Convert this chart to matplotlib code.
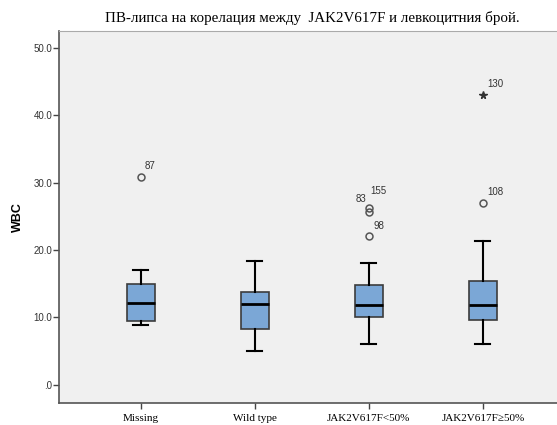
import matplotlib
matplotlib.use("Agg")
import matplotlib.pyplot as plt
from matplotlib.ticker import FuncFormatter

# Data
categories = ["Missing", "Wild type", "JAK2V617F<50%", "JAK2V617F\u226550%"]
q1 = [9.4, 8.2, 10.0, 9.6]
median = [12.1, 12.0, 11.8, 11.8]
q3 = [15.0, 13.8, 14.8, 15.4]
whisker_low = [8.8, 5.0, 6.0, 6.0]
whisker_high = [17.0, 18.3, 18.1, 21.4]

# outliers: (category index, value, case label)
outlier_cat = [0, 2, 2, 2, 3]
outlier_val = [30.9, 26.3, 25.6, 22.0, 27.0]
outlier_lbl = ["87", "155", "83", "98", "108"]
extreme_cat = [3]
extreme_val = [43.0]
extreme_lbl = ["130"]

title = "ПВ-липса на корелация между  JAK2V617F и левкоцитния брой."
ylabel = "WBC"
yticks = [0, 10, 20, 30, 40, 50]

# label offsets in points (text placement only)
outlier_off = [(3, 4, "left"), (1, 8, "left"), (-2, 6, "right"), (3, 4, "left"), (3, 4, "left")]
extreme_off = [(3, 4, "left")]

fig = plt.figure(figsize=(5.57, 4.25), dpi=100)
ax = fig.add_axes([0.106, 0.052, 0.894, 0.875])
ax.set_facecolor("#F0F0F0")

positions = list(range(1, len(categories) + 1))
stats = []
for i in range(len(categories)):
    stats.append(dict(med=median[i], q1=q1[i], q3=q3[i],
                      whislo=whisker_low[i], whishi=whisker_high[i], fliers=[]))

ax.bxp(stats, positions=positions, widths=0.25, capwidths=0.13,
       patch_artist=True, showfliers=False,
       boxprops=dict(facecolor="#7BA7D6", edgecolor="#3C3C3C", linewidth=1.2),
       medianprops=dict(color="black", linewidth=2),
       whiskerprops=dict(color="black", linewidth=1.5),
       capprops=dict(color="black", linewidth=1.5))

ox = [positions[c] for c in outlier_cat]
ax.plot(ox, outlier_val, "o", markersize=5, markerfacecolor="none",
        markeredgecolor="#555555", markeredgewidth=1.1, linestyle="none")
ex = [positions[c] for c in extreme_cat]
ax.plot(ex, extreme_val, "*", markersize=5.5, color="#333333", linestyle="none")

for x, v, t, (dx, dy, ha) in zip(ox, outlier_val, outlier_lbl, outlier_off):
    ax.annotate(t, (x, v), xytext=(dx, dy), textcoords="offset points",
                ha=ha, va="bottom", fontsize=7, color="#333333",
                family="Liberation Sans")
for x, v, t, (dx, dy, ha) in zip(ex, extreme_val, extreme_lbl, extreme_off):
    ax.annotate(t, (x, v), xytext=(dx, dy), textcoords="offset points",
                ha=ha, va="bottom", fontsize=7, color="#333333",
                family="Liberation Sans")

ax.set_xlim(0.283, 4.65)
ax.set_ylim(-2.7, 52.5)
ax.set_xticks(positions)
ax.set_xticklabels(categories, family="Liberation Serif", fontsize=8)
ax.set_yticks(yticks)
ax.yaxis.set_major_formatter(FuncFormatter(lambda v, p: ("%.1f" % v).lstrip("0") if v == 0 else "%.1f" % v))
for lab in ax.get_yticklabels():
    lab.set_family("Liberation Sans")
    lab.set_fontsize(7)
    lab.set_color("#333333")
ax.tick_params(axis="both", direction="out", length=4, width=1, color="#444444", pad=1)
ax.tick_params(axis="x", pad=4)
ax.set_ylabel(ylabel, family="Liberation Sans", fontweight="bold", fontsize=9, labelpad=7)

ax.spines["right"].set_visible(False)
ax.spines["top"].set_color("#AAAAAA")
ax.spines["left"].set_color("#555555")
ax.spines["bottom"].set_color("#555555")
ax.spines["left"].set_linewidth(1.2)
ax.spines["bottom"].set_linewidth(1.2)

fig.text(0.56, 0.958, title, ha="center", va="center",
         family="Liberation Serif", fontsize=10.8)

fig.savefig("out.png", dpi=100, facecolor="white")
